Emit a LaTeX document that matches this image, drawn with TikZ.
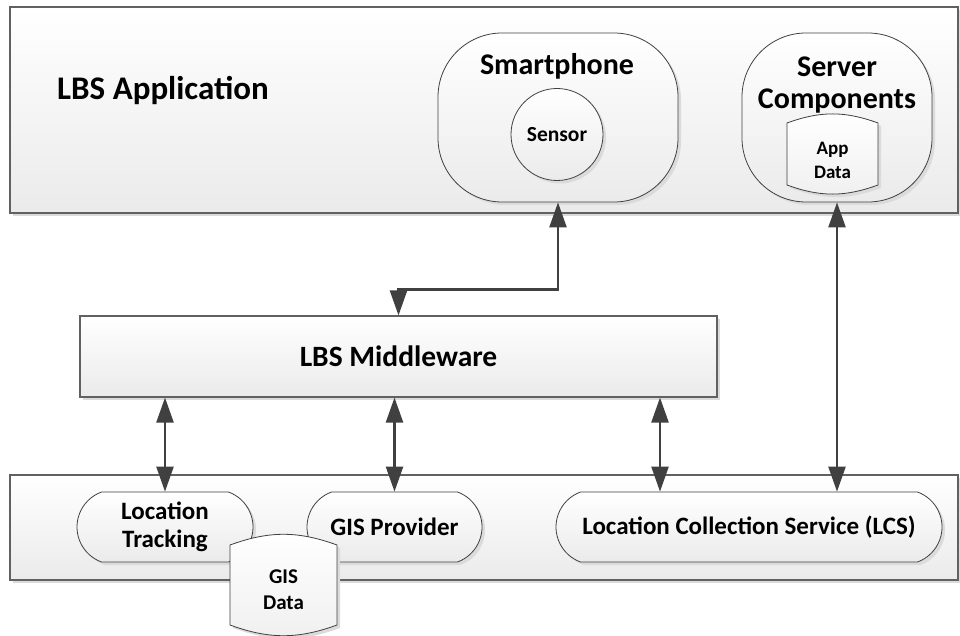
\documentclass[tikz,border=0pt]{standalone}
\usepackage{fontspec}
\setmainfont{Carlito}
\usetikzlibrary{arrows.meta,shapes.misc,shadows,calc}

\newcommand\lblfont[2]{\fontsize{#1}{#2}\selectfont\bfseries}

\begin{document}
\begin{tikzpicture}[x=1pt,y=-1pt,
  softfill/.style={top color=white, bottom color=black!8},
  shade/.style={drop shadow={shadow xshift=3pt, shadow yshift=-3pt, fill=black!14, opacity=1}},
  panel/.style={draw=black!62, line width=1.1pt, softfill, shade, inner sep=0pt},
  part/.style={draw=black!75, line width=0.8pt, softfill, shade, inner sep=0pt},
  device/.style={part, rounded corners=64pt, minimum height=169pt},
  pill/.style={part, rounded rectangle, rounded rectangle arc length=140,
    minimum height=70pt, align=center, font=\lblfont{25}{28}},
  dbshape/.style={draw=black!75, line width=0.8pt, top color=white, bottom color=black!6, shade},
  dbframe/.style={inner sep=0pt, outer sep=0pt},
  dbtext/.style={align=center, font=\lblfont{21}{26}},
  arr/.style={draw=black!75, line width=2.4pt,
    {Triangle[length=25pt,width=17pt]}-{Triangle[length=25pt,width=17pt]}},
]
\useasboundingbox (0,0) rectangle (960,636);

% layers
\node[panel, minimum width=948pt, minimum height=206pt] (app) at (484,110) {};
\node[panel, minimum width=948pt, minimum height=105pt] (base) at (484,527.5) {};
\node[panel, minimum width=637pt, minimum height=81pt, font=\lblfont{29.5}{32}] (mw) at (398.5,356.5) {LBS Middleware};

\node[font=\lblfont{33}{36}] (apptitle) at (163,90) {LBS Application};

% smartphone
\node[device, minimum width=240pt] (phone) at (558,117.5) {};
\node[font=\lblfont{30}{32}] (phonelbl) at (557,66) {Smartphone};
\node[part, circle, minimum size=92pt, font=\lblfont{21.5}{24}] (sensor) at (557,134.5) {Sensor};

% server side
\node[device, minimum width=190pt] (srv) at (837,117.5) {};
\node[font=\lblfont{30}{32}, align=center] (srvlbl) at (837,85) {Server\\Components};
\node[dbframe, minimum width=91pt, minimum height=62pt] (appdata) at (832.5,154) {};
\path[dbshape] (appdata.north west) to[bend left=20] (appdata.north east)
  -- (appdata.south east) to[bend left=20] (appdata.south west) -- cycle;
\node[dbtext, font=\lblfont{19}{24}] (appdatalbl) at (832.5,160) {App\\Data};

% services
\node[pill, minimum width=176pt] (lt) at (165,527) {Location\\Tracking};
\node[pill, minimum width=175pt] (gisp) at (394.5,527) {GIS Provider};
\node[pill, minimum width=386pt] (lcs) at (749,527) {Location Collection Service (LCS)};

\node[dbframe, minimum width=107pt, minimum height=80pt] (gisdata) at (283.5,585) {};
\path[dbshape] (gisdata.north west) to[bend left=20] (gisdata.north east)
  -- (gisdata.south east) to[bend left=20] (gisdata.south west) -- cycle;
\node[dbtext] (gisdatalbl) at (283.5,590) {GIS\\Data};

% connectors
\draw[arr] (phone.south) -- ++(0,87) -| (mw.north);
\draw[arr] (srv.south) -- (srv.south |- lcs.north);
\draw[arr] (lt.north |- mw.south) -- (lt.north);
\draw[arr] (gisp.north |- mw.south) -- (gisp.north);
\draw[arr] ([xshift=-89pt]lcs.north |- mw.south) -- ([xshift=-89pt]lcs.north);
\end{tikzpicture}
\end{document}
